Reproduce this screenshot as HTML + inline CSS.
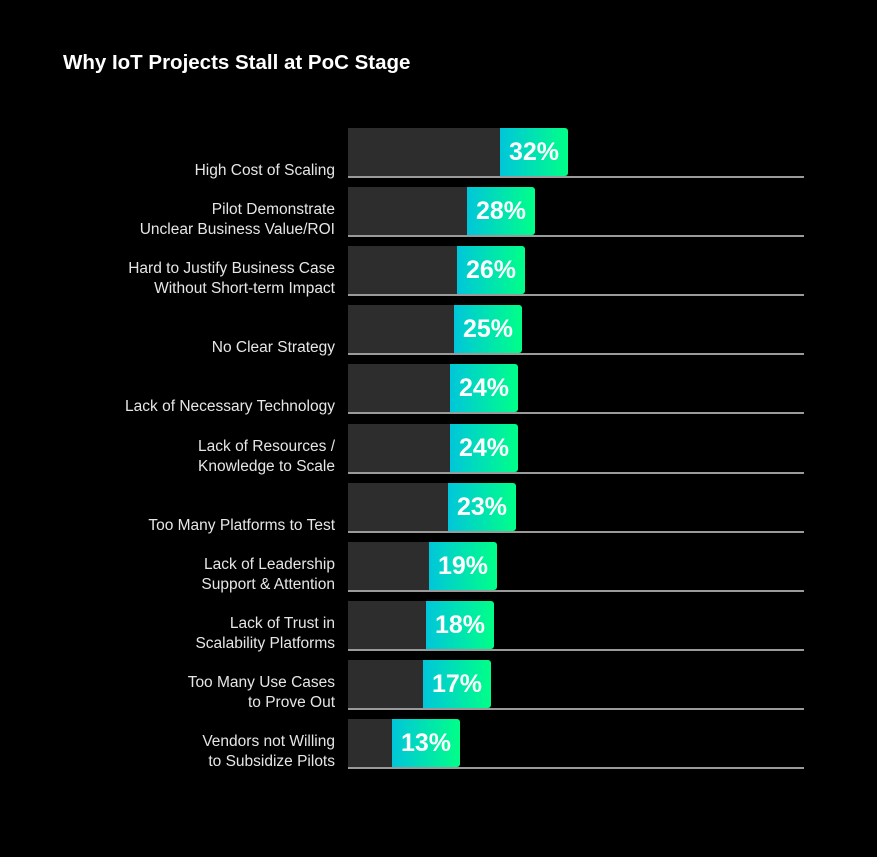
<!DOCTYPE html>
<html><head><meta charset="utf-8"><style>
html,body{margin:0;padding:0;background:#000;width:877px;height:857px;overflow:hidden}
body{position:relative;font-family:"Liberation Sans",sans-serif}
.t{position:absolute;left:63px;top:51px;color:#fff;font-weight:bold;font-size:20.5px;letter-spacing:0}
.row{position:absolute;left:348px;height:48px}
.dk{position:absolute;left:0;top:0;height:48px;background:#2d2d2d}
.gr{position:absolute;top:0;height:48px;width:68px;background:linear-gradient(90deg,#00c6da,#00ff88);border-radius:0 3px 3px 0;color:#fff;font-weight:bold;font-size:25px;line-height:48px;text-align:center;letter-spacing:0}
.ln{position:absolute;left:348px;width:456px;height:1.5px;background:#9a9a9a}
.lb{position:absolute;right:542px;width:320px;text-align:right;color:#e6e6e6;font-size:15.5px;line-height:20px}
</style></head><body>
<div class="t">Why IoT Projects Stall at PoC Stage</div>
<div id="c"></div>
<script>
var d=[["High Cost of Scaling",152,"32%"],["Pilot Demonstrate<br>Unclear Business Value/ROI",119,"28%"],["Hard to Justify Business Case<br>Without Short-term Impact",109,"26%"],["No Clear Strategy",106,"25%"],["Lack of Necessary Technology",102,"24%"],["Lack of Resources /<br>Knowledge to Scale",102,"24%"],["Too Many Platforms to Test",100,"23%"],["Lack of Leadership<br>Support &amp; Attention",81,"19%"],["Lack of Trust in<br>Scalability Platforms",78,"18%"],["Too Many Use Cases<br>to Prove Out",75,"17%"],["Vendors not Willing<br>to Subsidize Pilots",44,"13%"]];
var h="";
d.forEach(function(r,i){var top=Math.round(128+i*59.1);
h+='<div class="row" style="top:'+top+'px"><div class="dk" style="width:'+r[1]+'px"></div><div class="gr" style="left:'+r[1]+'px">'+r[2]+'</div></div>';
h+='<div class="ln" style="top:'+(top+48)+'px"></div>';
h+='<div class="lb" style="bottom:'+(857-(top+48)-5)+'px">'+r[0]+'</div>';});
document.getElementById("c").innerHTML=h;
</script>
</body></html>
